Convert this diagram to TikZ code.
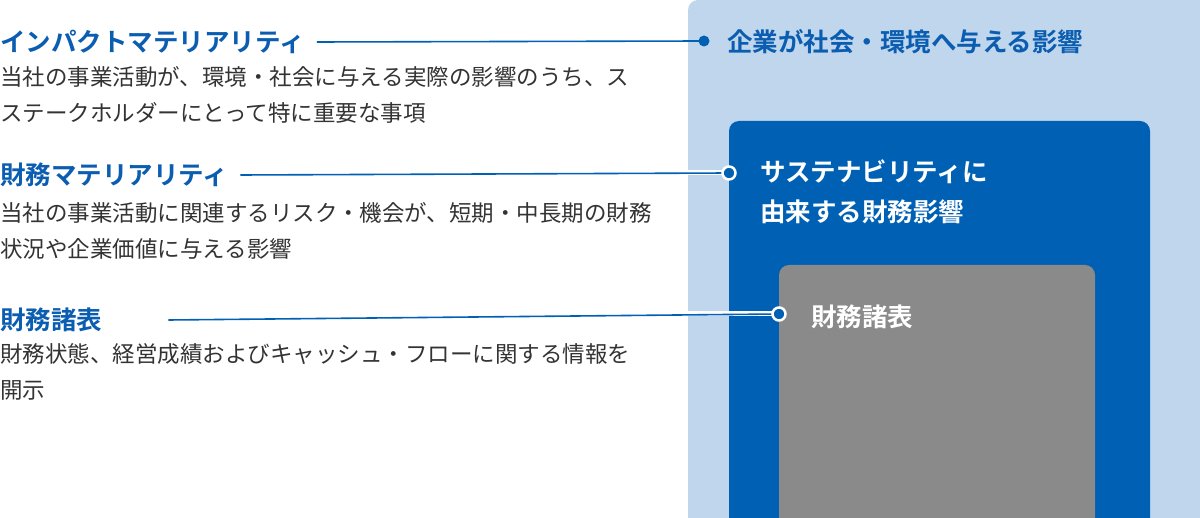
\documentclass[tikz,border=0pt]{standalone}
\usepackage{fontspec}
\setmainfont{Noto Sans CJK JP}
\newfontfamily\jpb{Noto Sans CJK JP Bold}
\definecolor{lb}{HTML}{C0D6EC}
\definecolor{db}{HTML}{0060B4}
\definecolor{gr}{HTML}{8A8A8A}
\definecolor{tb}{HTML}{0A5DB0}
\definecolor{tx}{HTML}{333333}
\begin{document}
\begin{tikzpicture}[x=1pt,y=-1pt,
 head/.style={anchor=west,inner sep=0pt,font=\jpb\fontsize{25.5}{30}\selectfont,text=tb},
 body/.style={anchor=west,inner sep=0pt,font=\fontsize{22.5}{36}\selectfont,text=tx,align=left},
 inhead/.style={anchor=north west,inner sep=0pt,font=\jpb\fontsize{25.5}{40}\selectfont,align=left},
 halo/.style={white,line width=5pt},
 ln/.style={db,line width=1.6pt}]
\useasboundingbox (0,0) rectangle (1200,518);
\fill[lb,rounded corners=10pt] (688,0) rectangle (1212,530);
\fill[db,rounded corners=10pt] (729,121) rectangle (1150,530);
\fill[gr,rounded corners=10pt] (779,265) rectangle (1095,530);
\node[head] (h1) at (0,42) {インパクトマテリアリティ};
\node[body] (b1) at (0,95) {当社の事業活動が、環境・社会に与える実際の影響のうち、ス\\ステークホルダーにとって特に重要な事項};
\node[head] (h2) at (0,175) {財務マテリアリティ};
\node[body] (b2) at (0,231) {当社の事業活動に関連するリスク・機会が、短期・中長期の財務\\状況や企業価値に与える影響};
\node[head] (h3) at (0,320) {財務諸表};
\node[body] (b3) at (0,372) {財務状態、経営成績およびキャッシュ・フローに関する情報を\\開示};
\node[inhead,text=tb,anchor=west] (r1) at (727,42) {企業が社会・環境へ与える影響};
\node[inhead,text=white,anchor=west] (r2) at (760,192) {サステナビリティに\\由来する財務影響};
\node[inhead,text=white,anchor=west] (r3) at (811,317) {財務諸表};
\coordinate (e1) at (704,41);
\coordinate (e2) at (729,173);
\coordinate (e3) at (779,314);
\draw[ln] ([xshift=12pt]h1.east) -- (e1);
\fill[db] (e1) circle (5.5pt);
\draw[halo] (688,173) -- (e2);
\draw[ln] ([xshift=12pt]h2.east) -- (e2);
\draw[halo] (688,314) -- (e3);
\draw[ln] ([xshift=66pt]h3.east) -- (e3);
\draw[white,fill=db,line width=2.5pt] (e2) circle (6.5pt);
\draw[white,fill=db,line width=2.5pt] (e3) circle (6.5pt);
\end{tikzpicture}
\end{document}
